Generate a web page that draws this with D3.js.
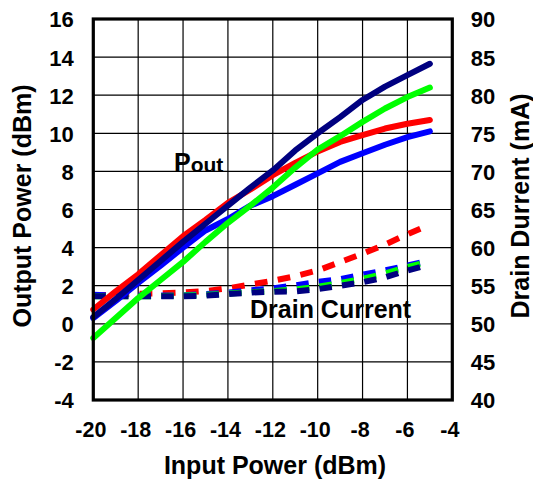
<!DOCTYPE html>
<html>
<head>
<meta charset="utf-8">
<script src="https://cdn.jsdelivr.net/npm/d3@7"></script>
<style>
  html, body { margin: 0; padding: 0; background: #fff; }
  svg { display: block; font-family: Arial, "Liberation Sans", sans-serif; font-weight: bold; }
</style>
</head>
<body>
<svg id="chart" width="533" height="493"></svg>
<script>
// ---- data ----
const inputPower = [-20, -19, -18, -17, -16, -15, -14, -13, -12, -11, -10, -9, -8, -7, -6, -5];

// Output power (dBm), left axis
const poutNavy  = [0.35, 1.3, 2.3, 3.3, 4.3, 5.25, 6.2, 7.15, 8.05, 9.1, 10.0, 10.85, 11.75, 12.45, 13.05, 13.65];
const poutRed   = [0.75, 1.7, 2.6, 3.6, 4.6, 5.45, 6.35, 7.05, 7.8, 8.45, 9.05, 9.55, 9.9, 10.25, 10.5, 10.7];
const poutBlue  = [0.3, 1.2, 2.15, 3.05, 4.0, 4.9, 5.5, 6.2, 6.7, 7.3, 7.9, 8.5, 8.95, 9.4, 9.8, 10.1];
const poutGreen = [-0.75, 0.3, 1.35, 2.3, 3.25, 4.3, 5.3, 6.2, 7.15, 8.2, 9.15, 9.85, 10.6, 11.3, 11.9, 12.4];

// Drain current (mA), right axis
const idRed   = [53.7, 53.85, 53.95, 54.0, 54.1, 54.3, 54.65, 55.15, 55.65, 56.25, 57.0, 58.1, 59.2, 60.4, 61.75, 63.0];
const idBlue  = [53.8, 53.7, 53.7, 53.7, 53.75, 53.9, 54.1, 54.4, 54.65, 55.05, 55.5, 55.85, 56.45, 57.0, 57.65, 58.3];
const idGreen = [53.6, 53.6, 53.6, 53.65, 53.7, 53.8, 53.95, 54.15, 54.3, 54.5, 54.85, 55.35, 55.9, 56.6, 57.45, 58.2];
const idNavy  = [53.6, 53.6, 53.6, 53.6, 53.6, 53.7, 53.9, 54.1, 54.2, 54.25, 54.55, 55.0, 55.45, 56.1, 57.0, 57.8];

const xTicks = [-20, -18, -16, -14, -12, -10, -8, -6, -4];
const yLeftTicks = [-4, -2, 0, 2, 4, 6, 8, 10, 12, 14, 16];
const yRightTicks = [40, 45, 50, 55, 60, 65, 70, 75, 80, 85, 90];

const seriesColors = ["#ff0000", "#0000ff", "#00ff00", "#000080"]; // red, blue, green, navy
const poutSeries = [poutRed, poutBlue, poutGreen, poutNavy];
const idSeries = [idRed, idBlue, idGreen, idNavy];

// ---- layout ----
const L = 93.3, R = 452.3, T = 19, B = 400;
const svg = d3.select("#chart");
svg.append("rect").attr("width", 533).attr("height", 493).attr("fill", "#fff");

const x = d3.scaleLinear().domain([-20, -4]).range([L, R]);
const yL = d3.scaleLinear().domain([-4, 16]).range([B, T]);
const yR = d3.scaleLinear().domain([40, 90]).range([B, T]);
const fmt = d => String(d);

// grid
const grid = svg.append("g").attr("stroke", "#000").attr("stroke-width", 1.2);
grid.selectAll("line.v").data(xTicks).enter().append("line")
  .attr("x1", d => x(d)).attr("x2", d => x(d)).attr("y1", T).attr("y2", B);
grid.selectAll("line.h").data(yLeftTicks).enter().append("line")
  .attr("x1", L).attr("x2", R).attr("y1", d => yL(d)).attr("y2", d => yL(d));

// axes
const axL = svg.append("g").attr("transform", `translate(${L},0)`)
  .call(d3.axisLeft(yL).tickValues(yLeftTicks).tickSize(0).tickPadding(19.5).tickFormat(fmt));
const axR = svg.append("g").attr("transform", `translate(${R},0)`)
  .call(d3.axisRight(yR).tickValues(yRightTicks).tickSize(0).tickPadding(18.5).tickFormat(fmt));
const axB = svg.append("g").attr("transform", `translate(0,${B})`)
  .call(d3.axisBottom(x).tickValues(xTicks).tickSize(0).tickPadding(21.5).tickFormat(fmt));
[axL, axR, axB].forEach(a => {
  a.select(".domain").remove();
  a.selectAll("text").attr("font-size", 22).attr("font-weight", "bold")
    .attr("font-family", "Arial, 'Liberation Sans', sans-serif").attr("fill", "#000");
});
axL.selectAll("text").attr("dy", "0.36em");
axR.selectAll("text").attr("dy", "0.36em");
axB.selectAll("text").attr("dx", -3).attr("dy", "0.71em").attr("font-size", 21.5);

// lines
const lineL = d3.line().x((d, i) => x(inputPower[i])).y(d => yL(d));
const lineR = d3.line().x((d, i) => x(inputPower[i])).y(d => yR(d));

svg.append("clipPath").attr("id", "clip")
  .append("rect").attr("x", L).attr("y", T).attr("width", R - L).attr("height", B - T);

const plot = svg.append("g").attr("clip-path", "url(#clip)");
const nSeg = inputPower.length - 1;
idSeries.forEach((s, k) => {
  const p = plot.append("path").attr("d", lineR(s)).attr("fill", "none")
    .attr("stroke", seriesColors[k]).attr("stroke-width", 6)
    .attr("stroke-linecap", "butt");
  const len = p.node().getTotalLength();
  const period = len / nSeg;
  p.attr("stroke-dasharray", `${(period * 0.55).toFixed(2)},${(period * 0.45).toFixed(2)}`);
});
poutSeries.forEach((s, k) => {
  svg.append("path").attr("d", lineL(s)).attr("fill", "none")
    .attr("stroke", seriesColors[k]).attr("stroke-width", 6)
    .attr("stroke-linecap", "round").attr("stroke-linejoin", "round");
});

// border
svg.append("rect").attr("x", L).attr("y", T).attr("width", R - L).attr("height", B - T)
  .attr("fill", "none").attr("stroke", "#000").attr("stroke-width", 3.2);

// titles
svg.append("text").attr("x", 275).attr("y", 473.5).attr("text-anchor", "middle")
  .attr("font-size", 25).text("Input Power (dBm)");
svg.append("text").attr("transform", "translate(31,206) rotate(-90)").attr("text-anchor", "middle")
  .attr("font-size", 25).text("Output Power (dBm)");
svg.append("text").attr("transform", "translate(529,206) rotate(-90)").attr("text-anchor", "middle")
  .attr("font-size", 25).text("Drain Durrent (mA)");

// annotations
const pout = svg.append("text").attr("x", 174).attr("y", 171);
pout.append("tspan").attr("font-size", 25).text("P");
pout.append("tspan").attr("font-size", 21).attr("dy", 1).text("out");
svg.append("text").attr("x", 250).attr("y", 318).attr("font-size", 25).text("Drain Current");
</script>
</body>
</html>
